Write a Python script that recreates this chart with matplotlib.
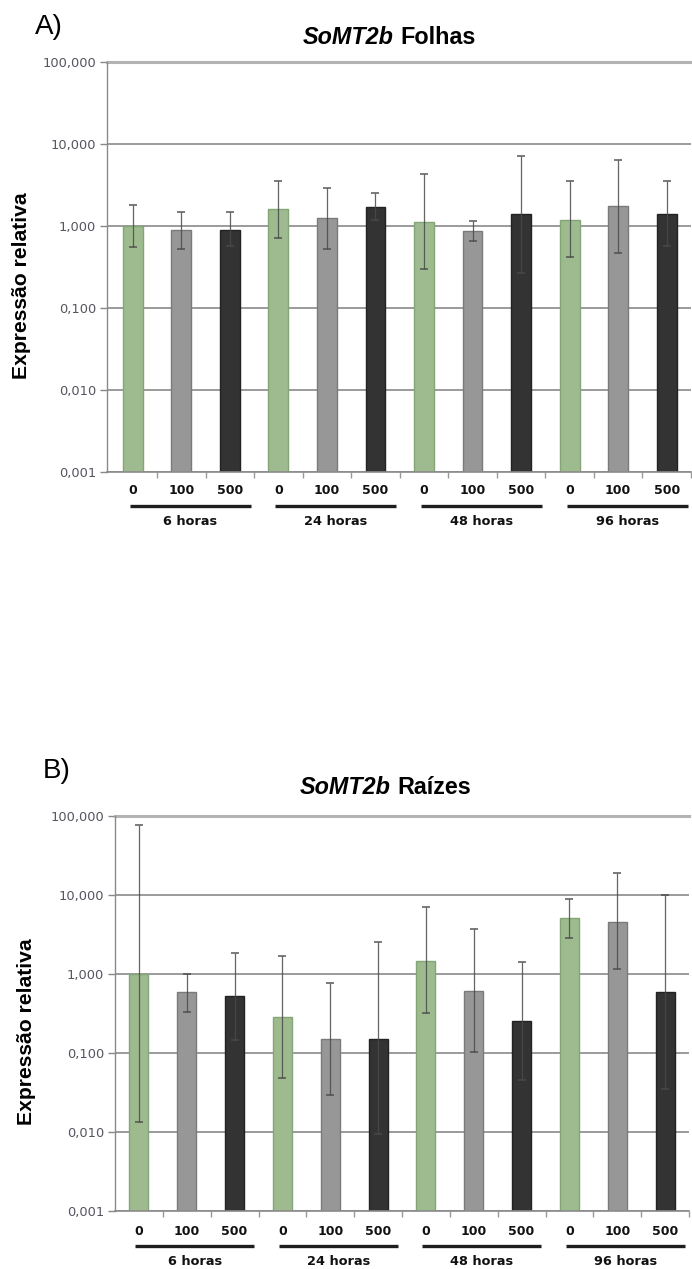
import matplotlib
matplotlib.use("Agg")
import matplotlib.pyplot as plt
import matplotlib.transforms as mtrans
from matplotlib.lines import Line2D
import numpy as np

# ---------------- data ----------------
doses = ["0", "100", "500", "0", "100", "500", "0", "100", "500", "0", "100", "500"]
groups = ["6 horas", "24 horas", "48 horas", "96 horas"]
ytick_vals = [0.001, 0.01, 0.1, 1, 10, 100]
ytick_labels = ["0,001", "0,010", "0,100", "1,000", "10,000", "100,000"]

leaf_mean = [1.00, 0.90, 0.90, 1.62, 1.25, 1.71, 1.13, 0.86, 1.40, 1.19, 1.73, 1.40]
leaf_hi = [1.81, 1.47, 1.47, 3.5, 2.87, 2.54, 4.35, 1.15, 7.2, 3.5, 6.3, 3.5]
leaf_lo = [0.55, 0.52, 0.57, 0.72, 0.52, 1.19, 0.30, 0.65, 0.27, 0.42, 0.47, 0.57]

root_mean = [1.00, 0.585, 0.52, 0.288, 0.150, 0.150, 1.47, 0.615, 0.251, 5.12, 4.59, 0.585]
root_hi = [76.9, 1.00, 1.82, 1.71, 0.77, 2.51, 7.05, 3.71, 1.40, 8.98, 18.8, 10.1]
root_lo = [0.0132, 0.327, 0.147, 0.048, 0.029, 0.0094, 0.318, 0.102, 0.046, 2.82, 1.16, 0.035]

# ---------------- styles ----------------
face = ["#9dbb8e", "#979797", "#333333"] * 4
edge = ["#84a575", "#7a7a7a", "#222222"] * 4
SANS = ["Liberation Sans", "DejaVu Sans"]
VERD = ["DejaVu Sans"]

W, H = 692, 1269
fig = plt.figure(figsize=(W / 100, H / 100), dpi=100)


def fx(px):
    return px / W


def fy(py):
    return 1 - py / H


def draw_panel(rect, xlim, width, mean, lo, hi, letter, letter_xy, title_main, title_xy,
               ylabel_xy, ytick_y, line_y, group_y, line_span):
    ax = fig.add_axes(rect)
    ax.set_yscale("log")
    x = np.arange(len(mean))
    ax.set_axisbelow(True)
    ax.bar(x, mean, width=width, color=face, edgecolor=edge, linewidth=1.0, zorder=2)
    m = np.array(mean)
    yerr = [m - np.array(lo), np.array(hi) - m]
    ax.errorbar(x, m, yerr=yerr, fmt="none", ecolor="#4a4a4a", elinewidth=0.9,
                capsize=3, capthick=1.2, alpha=0.85, zorder=4)
    ax.set_ylim(0.001, 100)
    ax.set_xlim(*xlim)
    ax.set_yticks(ytick_vals)
    ax.set_yticklabels(ytick_labels, fontfamily=VERD, fontsize=9.4, color="#555560")
    ax.yaxis.set_minor_locator(matplotlib.ticker.NullLocator())
    ax.tick_params(axis="y", which="major", length=5, width=1, color="#888888", pad=3,
                   direction="out")
    ax.set_xticks([])
    ax.set_xticks(np.arange(0.5, 11.6, 1.0), minor=True)
    ax.tick_params(axis="x", which="minor", length=4, width=1, color="#999999",
                   direction="out")
    ax.grid(axis="y", which="major", color="#8a8a8a", linewidth=1.2)
    ax.axhline(100, color="#b3b3b3", linewidth=2.2, zorder=1, clip_on=False)
    for s in ["top", "right"]:
        ax.spines[s].set_visible(False)
    ax.spines["left"].set_color("#8a8a8a")
    ax.spines["left"].set_linewidth(1.0)
    ax.spines["bottom"].set_color("#8a8a8a")
    ax.spines["bottom"].set_linewidth(1.2)

    tr = mtrans.blended_transform_factory(ax.transData, fig.transFigure)
    for i, d in enumerate(doses):
        ax.text(i, fy(ytick_y), d, transform=tr, ha="center", va="center",
                fontfamily=VERD, fontweight="bold", fontsize=9, color="#111111")
    for g, name in enumerate(groups):
        a, b = g * 3 + line_span[0], g * 3 + line_span[1]
        ln = Line2D([a, b], [fy(line_y), fy(line_y)], transform=tr, color="#1e1e1e",
                    linewidth=2.4, solid_capstyle="butt")
        ln.set_clip_on(False)
        fig.add_artist(ln)
        ax.text((a + b) / 2, fy(group_y), name, transform=tr, ha="center", va="center",
                fontfamily=VERD, fontweight="bold", fontsize=9.3, color="#111111")

    fig.text(fx(letter_xy[0]), fy(letter_xy[1]), letter, ha="left", va="center",
             fontfamily=SANS, fontsize=20, color="#000000")
    fig.text(fx(title_xy[0] - 2), fy(title_xy[1]), "SoMT2b", ha="right", va="center",
             fontfamily=SANS, fontweight="bold", fontstyle="italic", fontsize=16.8)
    fig.text(fx(title_xy[0] + 4), fy(title_xy[1]), title_main, ha="left", va="center",
             fontfamily=SANS, fontweight="bold", fontsize=16.8)
    fig.text(fx(ylabel_xy[0]), fy(ylabel_xy[1]), "Expressão relativa", rotation=90,
             ha="center", va="center", fontfamily=SANS, fontweight="bold", fontsize=15.2)
    return ax


# top panel: axes px 107..691 x, 62..472 y
draw_panel([fx(107), fy(472), (691 - 107) / W, (472 - 62) / H],
           (-0.53, 11.39), 0.41, leaf_mean, leaf_lo, leaf_hi,
           "A)", (35, 27), "Folhas", (396, 37.5), (22, 286),
           490.5, 505.5, 521.5, (-0.06, 2.43))

# bottom panel: axes px 115..689 x, 816..1211 y
draw_panel([fx(115), fy(1211), (689 - 115) / W, (1211 - 816) / H],
           (-0.5, 11.5), 0.40, root_mean, root_lo, root_hi,
           "B)", (43, 771), "Raízes", (393, 788), (27, 1032),
           1231.5, 1245.5, 1261.5, (-0.08, 2.41))

fig.savefig("out.png", dpi=100)
